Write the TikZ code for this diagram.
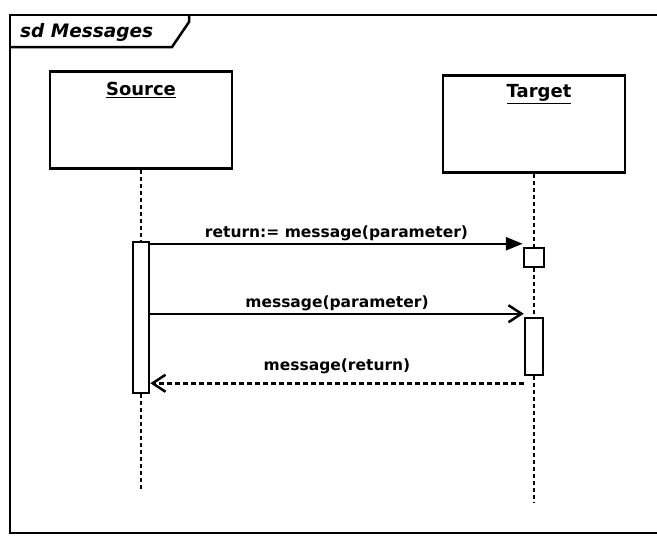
\documentclass[tikz,border=0pt]{standalone}
\usepackage{fontspec}
\setmainfont{DejaVu Sans}
\usetikzlibrary{arrows.meta}
\tikzset{
  boxline/.style={draw=black, line width=2.5pt, fill=white},
  objbox/.style={boxline, minimum width=182pt, minimum height=97pt, inner sep=0pt},
  actbar/.style={boxline, inner sep=0pt},
  lifeline/.style={draw=black, line width=2.5pt, dash pattern=on 4pt off 3pt},
  msg/.style={draw=black, line width=2.5pt},
  msglabel/.style={font=\bfseries\fontsize{15.5}{17}\selectfont, inner sep=2pt},
  objname/.style={font=\bfseries\fontsize{18}{20}\selectfont, inner sep=0pt},
}
\begin{document}
\begin{tikzpicture}[x=1pt,y=-1pt]
\useasboundingbox (0,0) rectangle (657,538);
\fill[white] (0,0) rectangle (657,538);
% frame
\draw[line width=2.5pt] (657,15) -- (10,15) -- (10,533) -- (657,533);
\draw[line width=2.5pt] (10,47) -- (172,47) -- (189,22) -- (189,15);
\node[anchor=west, font=\bfseries\itshape\fontsize{18.5}{20}\selectfont, inner sep=0pt] (frametitle) at (20,32) {sd Messages};
% objects
\node[objbox] (src) at (141,120) {};
\node[objbox] (tgt) at (534,124) {};
\node[objname] (srcname) at (141,90) {\underline{Source}};
\node[objname] (tgtname) at (539,94) {\underline{Target}};
% activations
\node[actbar, minimum width=16pt, minimum height=151pt] (srcbar) at (141,317.5) {};
\node[actbar, minimum width=20pt, minimum height=19pt] (tgtsmall) at (534,257.5) {};
\node[actbar, minimum width=18pt, minimum height=57pt] (tgtbar) at (534,346.5) {};
\coordinate (srcend) at (141,490);
\coordinate (tgtend) at (534,503);
% lifelines
\draw[lifeline] (src.south) -- (srcbar.north);
\draw[lifeline] (srcbar.south) -- (srcend);
\draw[lifeline] (tgt.south) -- (tgtsmall.north);
\draw[lifeline] (tgtsmall.south) -- (tgtbar.north);
\draw[lifeline] (tgtbar.south) -- (tgtend);
% messages
\draw[msg, -{Triangle[length=17pt,width=13pt]}] ([yshift=3pt]srcbar.east |- tgtsmall.north west) -- ([yshift=3pt]tgtsmall.north west)
  node[msglabel, midway, above] (m1) {return:= message(parameter)};
\draw[msg, -{Straight Barb[length=13pt,width=17pt,line width=2.5pt]}] ([yshift=3pt]srcbar.east |- tgtbar.north west) -- ([yshift=3pt]tgtbar.north west)
  node[msglabel, midway, above] (m2) {message(parameter)};
\draw[msg, dash pattern=on 5pt off 3pt, -{Straight Barb[length=13pt,width=17pt,line width=2.5pt]}] ([yshift=-7pt]tgtbar.south west) -- ([yshift=-7pt]srcbar.east |- tgtbar.south west)
  node[msglabel, midway, above=6pt] (m3) {message(return)};
\end{tikzpicture}
\end{document}
